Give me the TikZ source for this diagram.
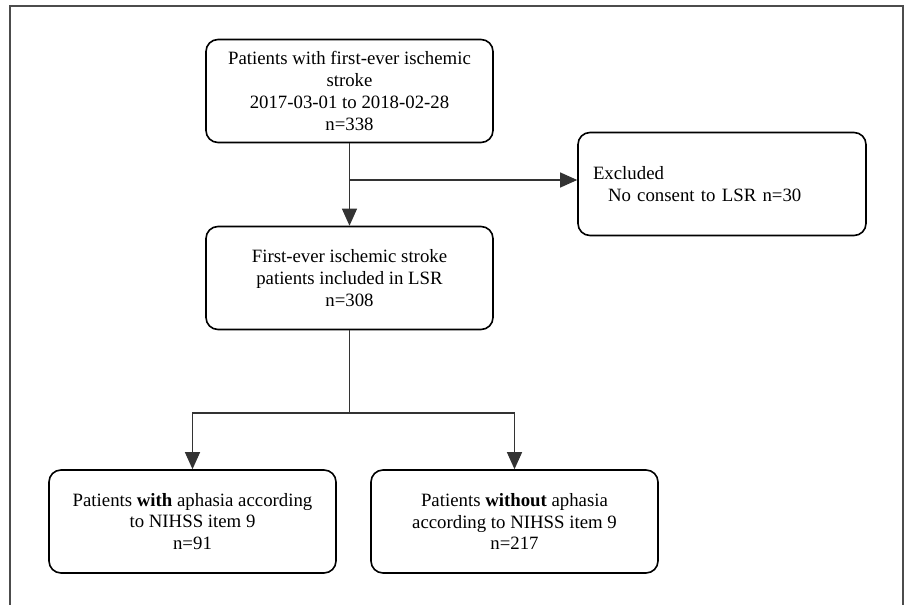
\documentclass[tikz,border=0pt]{standalone}
\usepackage{fontspec}
\setmainfont{Liberation Serif}
\usetikzlibrary{arrows.meta}

\begin{document}
\begin{tikzpicture}[
  x=1pt,
  y=-1pt,
  edge/.style={draw=black!80, line width=1.1pt},
  arrow/.style={edge, -{Triangle[length=17pt,width=15pt]}},
  stage/.style={
    rounded corners=12pt,
    draw=black,
    line width=1.6pt,
    minimum width=287pt,
    minimum height=103pt,
    inner sep=0pt,
    align=center,
    font=\fontsize{18.8}{21.7}\selectfont
  },
  note/.style={
    stage,
    align=left,
    text width=258pt,
    inner xsep=15pt
  }
]

% Coordinates follow the pixel grid of the flow chart (y grows downwards).
\useasboundingbox (0,0) rectangle (911,605);
\draw[draw=black!70, line width=1.3pt] (10,605) -- (10,6) -- (903,6) -- (903,605);

\node[stage] (screened) at (349.5,91) {Patients with first-ever ischemic\\stroke\\2017-03-01 to 2018-02-28\\n=338};
\node[note]  (excluded) at (722,184) {Excluded\\\hspace*{15pt}No consent to LSR n=30};
\node[stage] (included) at (349.5,278) {First-ever ischemic stroke\\patients included in LSR\\n=308};

\node[stage] (withaph)    at (192.5,521.5) {Patients \textbf{with} aphasia according\\to NIHSS item 9\\n=91};
\node[stage] (withoutaph) at (514.5,521.5) {Patients \textbf{without} aphasia\\according to NIHSS item 9\\n=217};

\coordinate (split) at (349.5,180);
\coordinate (fork)  at (349.5,413);

\draw[arrow] (screened) -- (included);
\draw[arrow] (split) -- (split -| excluded.west);
\draw[edge]  (included) -- (fork);
\draw[arrow] (fork) -| (withaph);
\draw[arrow] (fork) -| (withoutaph);

\end{tikzpicture}
\end{document}
